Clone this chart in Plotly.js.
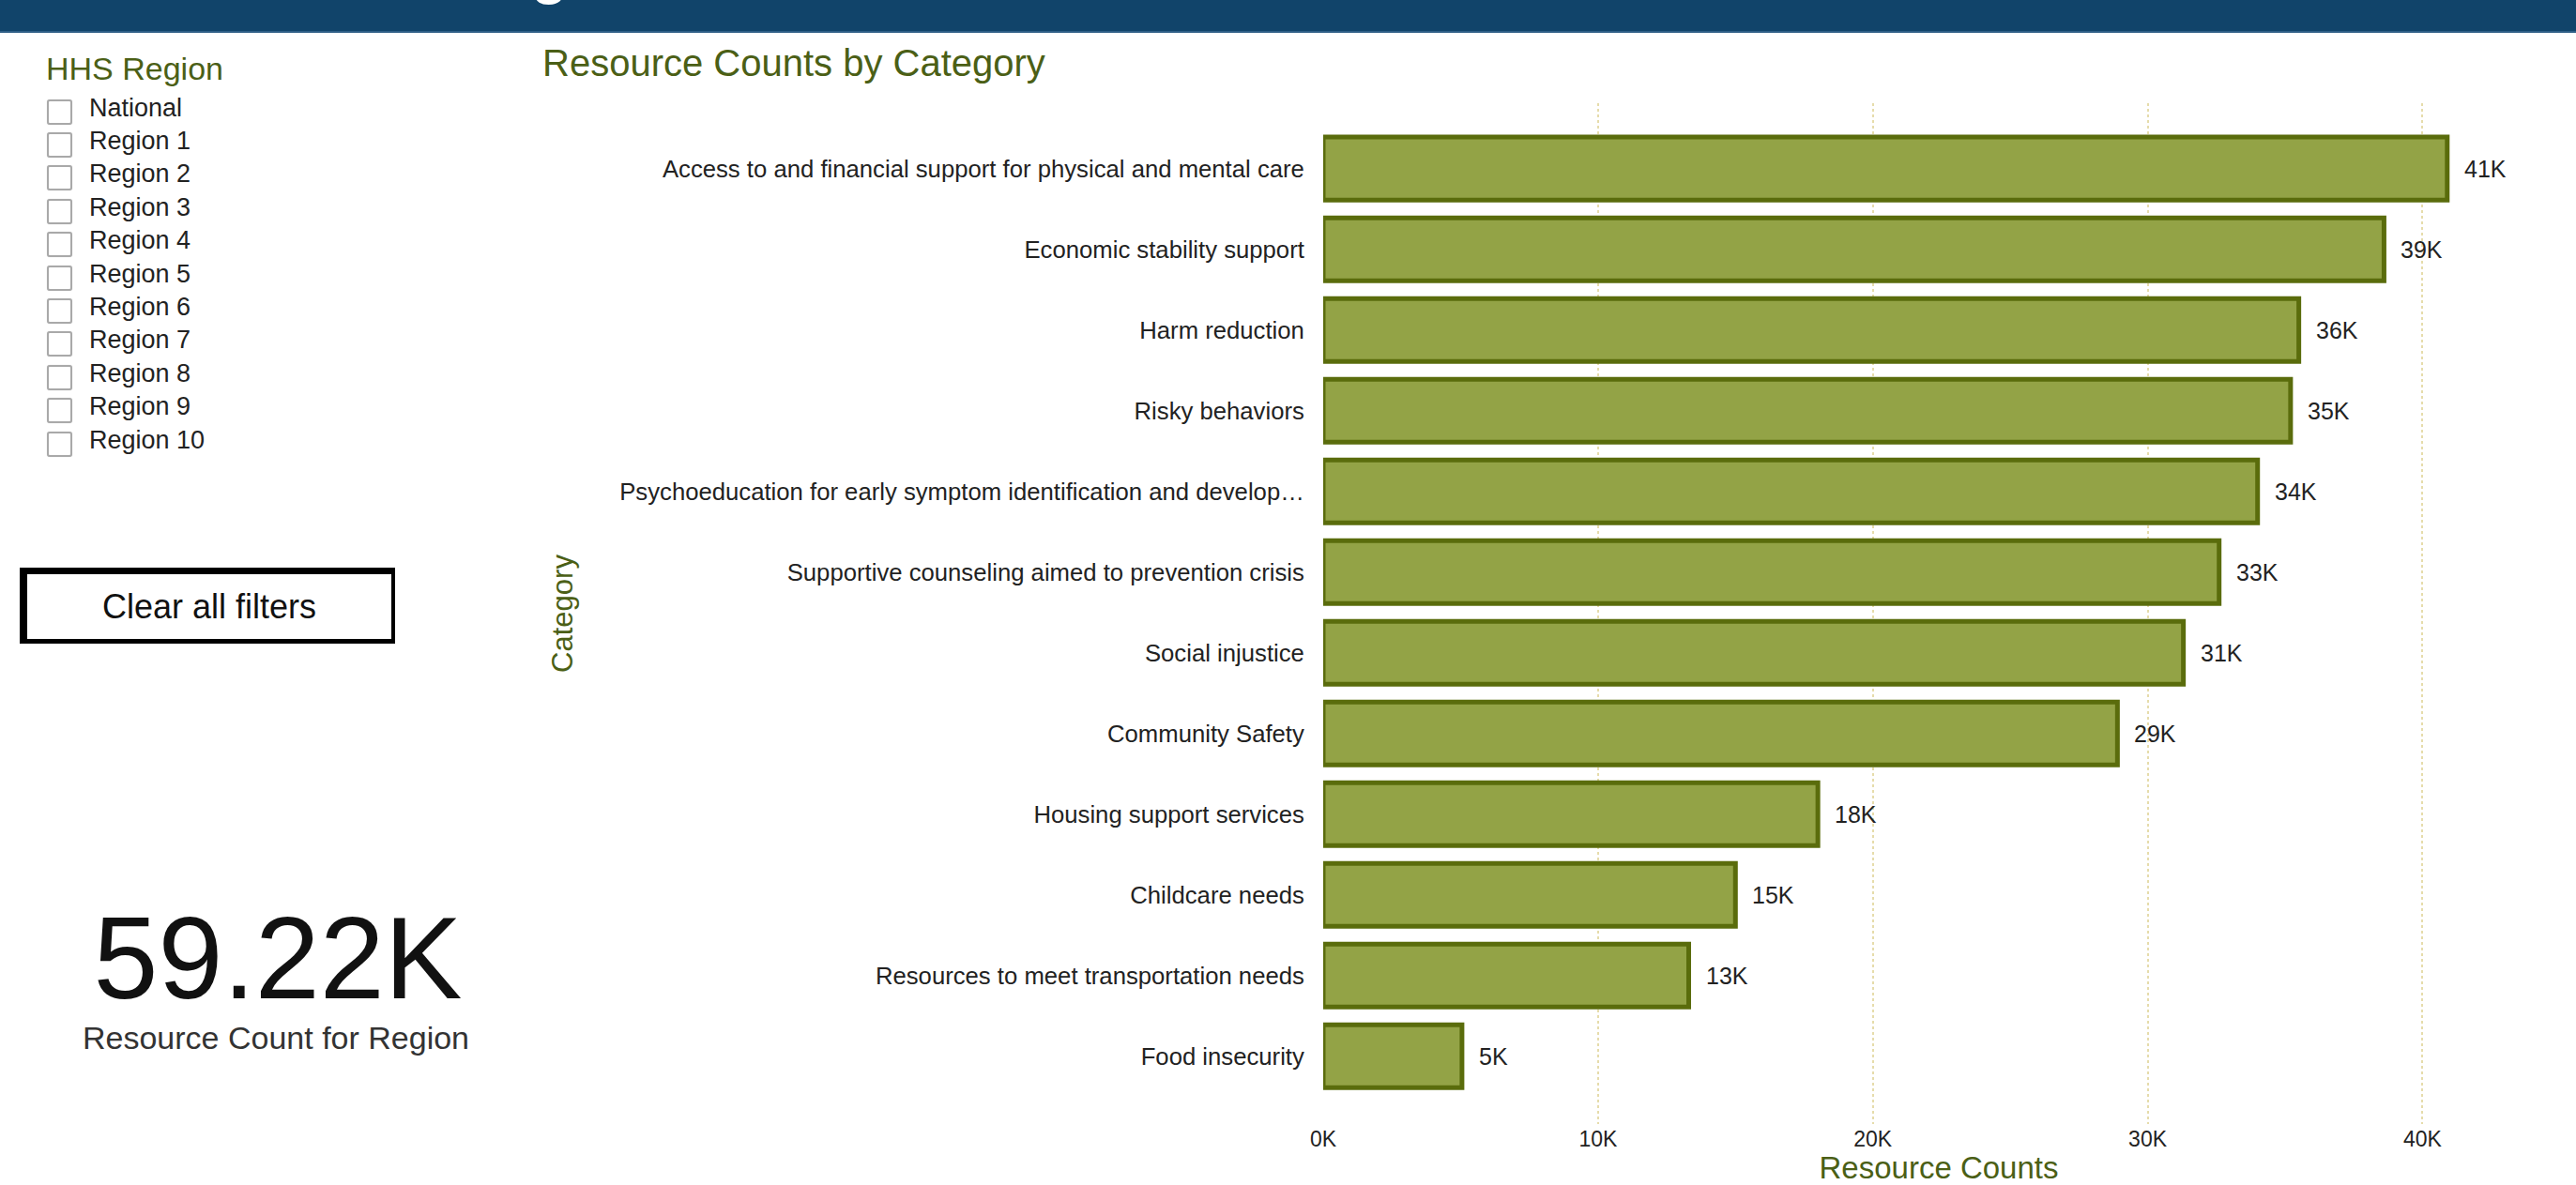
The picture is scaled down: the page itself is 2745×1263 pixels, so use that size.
<!DOCTYPE html>
<html>
<head>
<meta charset="utf-8">
<script src="https://cdn.plot.ly/plotly-3.0.1.min.js"></script>
<style>
  html, body { margin: 0; padding: 0; background: #ffffff; }
  body { width: 2745px; height: 1263px; position: relative; overflow: hidden;
         font-family: Arial, "Liberation Sans", sans-serif; }
  #banner { position: absolute; left: 0; top: 0; width: 2745px; height: 33px;
            background: #11446a; border-bottom: 2px solid #2f5f86; overflow: hidden; }
  #banner .cut { position: absolute; left: 566px; top: -62px; color: #ffffff;
                 font-size: 64px; font-weight: bold; line-height: 64px; }
  #chart { position: absolute; left: 0; top: 0; width: 2745px; height: 1263px; }
  .abs { position: absolute; white-space: nowrap; line-height: 1; }
  #hhs { left: 49px; top: 56px; font-size: 34px; color: #4b5f16; }
  .item { left: 95px; font-size: 27px; color: #222222; }
  .box { position: absolute; left: 50px; width: 23px; height: 23px;
         border: 2px solid #a9a9a9; border-radius: 3px; background: #fff;
         box-shadow: 0 0 1px #cccccc; }
  #clear { position: absolute; left: 21px; top: 605px; width: 388px; height: 69px;
           border-top: 7px solid #000; border-left: 8px solid #000;
           border-right: 4px solid #000; border-bottom: 5px solid #000;
           display: flex; align-items: center; justify-content: center;
           font-size: 36px; color: #111; }
  #kpi { left: 96px; width: 400px; top: 969px; font-size: 124px; line-height: 0.85;
         color: #111; text-align: center; }
  #kpiLabel { left: 88px; width: 412px; top: 1089px; font-size: 34px; color: #333; text-align: center; }
</style>
</head>
<body>
<div id="banner"><span class="cut">g</span></div>
<div id="chart"></div>
<div id="panel"></div>
<script>
// ---- data ----
var regions = ["National", "Region 1", "Region 2", "Region 3", "Region 4", "Region 5",
               "Region 6", "Region 7", "Region 8", "Region 9", "Region 10"];

var categories = [
  "Access to and financial support for physical and mental care",
  "Economic stability support",
  "Harm reduction",
  "Risky behaviors",
  "Psychoeducation for early symptom identification and develop\u2026",
  "Supportive counseling aimed to prevention crisis",
  "Social injustice",
  "Community Safety",
  "Housing support services",
  "Childcare needs",
  "Resources to meet transportation needs",
  "Food insecurity"
];
var resourceCounts = [40900, 38600, 35500, 35200, 34000, 32600, 31300, 28900, 18000, 15000, 13300, 5050];
var valueLabels = ["41K", "39K", "36K", "35K", "34K", "33K", "31K", "29K", "18K", "15K", "13K", "5K"];

var xTickValues = [0, 10000, 20000, 30000, 40000];
var xTickLabels = ["0K", "10K", "20K", "30K", "40K"];

var kpiValue = "59.22K";
var kpiCaption = "Resource Count for Region";

// ---- left panel (HTML) ----
var panelEl = document.getElementById("panel");
var html = '<div class="abs" id="hhs">HHS Region</div>';
for (var i = 0; i < regions.length; i++) {
  var rowTop = 101.5 + i * 35.4;
  html += '<div class="box" style="top:' + (rowTop + 4) + 'px"></div>';
  html += '<div class="abs item" style="top:' + rowTop + 'px">' + regions[i] + '</div>';
}
html += '<div id="clear">Clear all filters</div>';
html += '<div class="abs" id="kpi">' + kpiValue + '</div>';
html += '<div class="abs" id="kpiLabel">' + kpiCaption + '</div>';
panelEl.innerHTML = html;

// ---- chart ----
var FONT = 'Arial, "Liberation Sans", sans-serif';
var OLIVE = '#4b5f16';

var trace = {
  type: 'bar',
  orientation: 'h',
  y: categories,
  x: resourceCounts,
  marker: { color: '#93a346', line: { color: '#5a6c0c', width: 5 } },
  hoverinfo: 'skip'
};

var annotations = categories.map(function (c, i) {
  return {
    x: resourceCounts[i], y: c, xref: 'x', yref: 'y',
    text: valueLabels[i], showarrow: false,
    xanchor: 'left', yanchor: 'middle', xshift: 16,
    font: { family: FONT, size: 25, color: '#222222' }
  };
});

var layout = {
  width: 2745, height: 1263,
  paper_bgcolor: 'rgba(0,0,0,0)', plot_bgcolor: 'rgba(0,0,0,0)',
  margin: { l: 1410, r: 23, t: 110, b: 65 },
  showlegend: false,
  bargap: 0.22,
  title: {
    text: 'Resource Counts by Category',
    x: 578 / 2745, xref: 'container', xanchor: 'left',
    y: 1 - 67 / 1263, yref: 'container', yanchor: 'middle',
    font: { family: FONT, size: 40, color: OLIVE }
  },
  xaxis: {
    range: [0, 44800],
    tickvals: xTickValues, ticktext: xTickLabels,
    tickfont: { family: FONT, size: 23, color: '#222222' },
    ticks: '',
    showgrid: true, gridcolor: '#e6dcab', gridwidth: 2, griddash: 'dot',
    zeroline: false, showline: false, fixedrange: true,
    title: { text: 'Resource Counts', standoff: 10,
             font: { family: FONT, size: 33, color: OLIVE } }
  },
  yaxis: {
    type: 'category',
    categoryorder: 'array', categoryarray: categories,
    range: [11.84, -0.81],
    tickfont: { family: FONT, size: 25.7, color: '#222222' },
    ticks: 'outside', ticklen: 14, tickcolor: 'rgba(0,0,0,0)',
    showgrid: false, zeroline: false, showline: false, fixedrange: true,
    title: { text: 'Category', standoff: 40,
             font: { family: FONT, size: 31, color: OLIVE } }
  },
  annotations: annotations
};

Plotly.newPlot('chart', [trace], layout, { displayModeBar: false, staticPlot: true });
</script>
</body>
</html>
